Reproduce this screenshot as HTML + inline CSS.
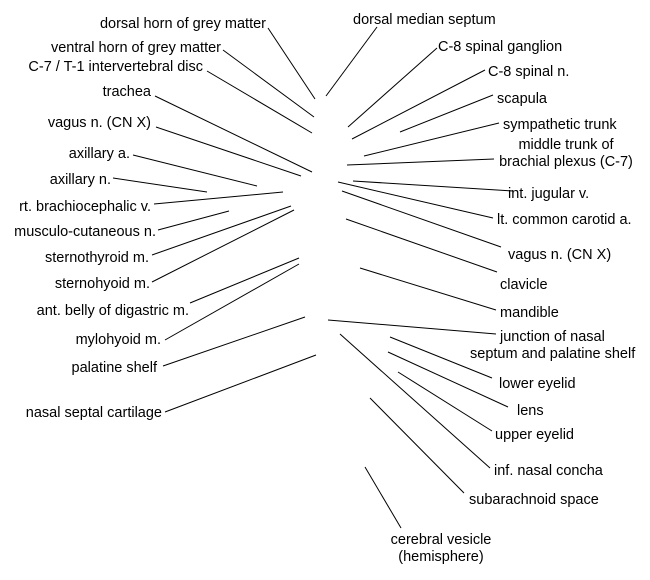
<!DOCTYPE html>
<html><head><meta charset="utf-8"><style>
html,body{margin:0;padding:0;background:#fff;}
svg{display:block;}
text{font-family:"Liberation Sans",Arial,sans-serif;font-size:14.5px;fill:#000;}
line{stroke:#000;stroke-width:1;}
</style></head><body>
<svg width="650" height="580" viewBox="0 0 650 580">
<g>
<line x1="268" y1="28" x2="315" y2="99"/>
<line x1="223" y1="50" x2="314" y2="117"/>
<line x1="207" y1="71" x2="312" y2="133"/>
<line x1="155" y1="96" x2="312" y2="172"/>
<line x1="156" y1="127" x2="301" y2="176"/>
<line x1="133" y1="155" x2="257" y2="186"/>
<line x1="113" y1="178" x2="207" y2="192"/>
<line x1="154" y1="204" x2="283" y2="192"/>
<line x1="158" y1="230" x2="229" y2="211"/>
<line x1="152" y1="255" x2="291" y2="206"/>
<line x1="152" y1="282" x2="294" y2="210"/>
<line x1="190" y1="303" x2="299" y2="258"/>
<line x1="165" y1="340" x2="299" y2="264"/>
<line x1="163" y1="366" x2="305" y2="317"/>
<line x1="165" y1="412" x2="316" y2="355"/>

<line x1="377" y1="27" x2="326" y2="96"/>
<line x1="437" y1="48" x2="348" y2="127"/>
<line x1="485" y1="70" x2="352" y2="139"/>
<line x1="493" y1="95" x2="400" y2="132"/>
<line x1="499" y1="123" x2="364" y2="156"/>
<line x1="494" y1="159" x2="347" y2="165"/>
<line x1="513" y1="191" x2="353" y2="181"/>
<line x1="493" y1="218" x2="338" y2="182"/>
<line x1="501" y1="247" x2="342" y2="191"/>
<line x1="497" y1="272" x2="346" y2="219"/>
<line x1="496" y1="310" x2="360" y2="268"/>
<line x1="496" y1="334" x2="328" y2="320"/>
<line x1="492" y1="378" x2="390" y2="337"/>
<line x1="508" y1="407" x2="388" y2="352"/>
<line x1="492" y1="431" x2="398" y2="372"/>
<line x1="490" y1="468" x2="340" y2="334"/>
<line x1="464" y1="493" x2="370" y2="398"/>
<line x1="401" y1="528" x2="365" y2="467"/>
</g>
<g text-anchor="end">
<text x="266" y="28">dorsal horn of grey matter</text>
<text x="221" y="52">ventral horn of grey matter</text>
<text x="203" y="71">C-7 / T-1 intervertebral disc</text>
<text x="151" y="96">trachea</text>
<text x="151" y="127">vagus n. (CN X)</text>
<text x="130" y="158">axillary a.</text>
<text x="111" y="184">axillary n.</text>
<text x="151" y="211">rt. brachiocephalic v.</text>
<text x="156" y="236">musculo-cutaneous n.</text>
<text x="149" y="262">sternothyroid m.</text>
<text x="150" y="288">sternohyoid m.</text>
<text x="189" y="315">ant. belly of digastric m.</text>
<text x="161" y="344">mylohyoid m.</text>
<text x="157" y="372">palatine shelf</text>
<text x="162" y="417">nasal septal cartilage</text>
</g>
<g>
<text x="353" y="24">dorsal median septum</text>
<text x="438" y="51">C-8 spinal ganglion</text>
<text x="488" y="76">C-8 spinal n.</text>
<text x="497" y="103">scapula</text>
<text x="503" y="129">sympathetic trunk</text>
<text x="566" y="149" text-anchor="middle">middle trunk of</text>
<text x="566" y="166" text-anchor="middle">brachial plexus (C-7)</text>
<text x="508" y="198">int. jugular v.</text>
<text x="497" y="224">lt. common carotid a.</text>
<text x="508" y="259">vagus n. (CN X)</text>
<text x="500" y="289">clavicle</text>
<text x="500" y="317">mandible</text>
<text x="500" y="341">junction of nasal</text>
<text x="470" y="358">septum and palatine shelf</text>
<text x="499" y="388">lower eyelid</text>
<text x="517" y="415">lens</text>
<text x="495" y="439">upper eyelid</text>
<text x="494" y="475">inf. nasal concha</text>
<text x="469" y="504">subarachnoid space</text>
<text x="441" y="544" text-anchor="middle">cerebral vesicle</text>
<text x="441" y="561" text-anchor="middle">(hemisphere)</text>
</g>
</svg>
</body></html>
